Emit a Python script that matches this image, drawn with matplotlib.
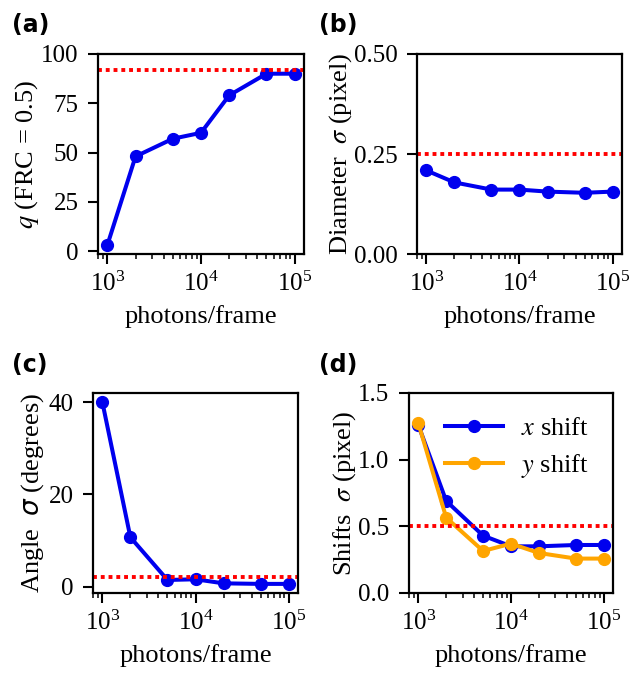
import matplotlib
matplotlib.use("Agg")
import matplotlib.pyplot as plt

photons = [1e3, 2e3, 5e3, 1e4, 2e4, 5e4, 1e5]
q_frc = [3, 48, 57, 60, 79, 90, 90]
q_ref = 92
diam_sigma = [0.209, 0.179, 0.161, 0.161, 0.156, 0.153, 0.156]
diam_ref = 0.25
angle_sigma = [40, 10.7, 1.45, 1.6, 0.72, 0.6, 0.6]
angle_ref = 2
x_shift = [1.26, 0.69, 0.43, 0.35, 0.35, 0.36, 0.36]
y_shift = [1.275, 0.565, 0.315, 0.37, 0.30, 0.258, 0.258]
shift_ref = 0.5

plt.rcParams['font.family'] = ['Liberation Serif', 'DejaVu Serif']
plt.rcParams['mathtext.fontset'] = 'stix'
plt.rcParams['font.size'] = 19
plt.rcParams['axes.linewidth'] = 1.6
plt.rcParams['xtick.major.width'] = 1.5
plt.rcParams['ytick.major.width'] = 1.5
plt.rcParams['xtick.minor.width'] = 1.1
plt.rcParams['xtick.major.size'] = 7
plt.rcParams['ytick.major.size'] = 7
plt.rcParams['xtick.minor.size'] = 3.6

fig = plt.figure(figsize=(6.42, 6.75), dpi=100)
H = 0.2963
axa = fig.add_axes([0.1526, 0.6237, 0.3209, H])
axb = fig.add_axes([0.6495, 0.6237, 0.3193, H])
axc = fig.add_axes([0.1449, 0.1215, 0.3193, H])
axd = fig.add_axes([0.6371, 0.1215, 0.3178, H])

lw = 2.9
ms = 8.5
blue = '#0000ee'
orange = '#ffa500'
dot = (0, (1, 1))
rlw = 2.8

def base(ax):
    ax.set_xscale('log')
    ax.set_xlabel('photons/frame', labelpad=6.5, fontsize=19)
    ax.tick_params(axis='x', labelsize=18, pad=6)
    ax.tick_params(axis='y', labelsize=18, pad=7)

# (a)
axa.plot(photons, q_frc, '-o', color=blue, lw=lw, ms=ms)
axa.axhline(q_ref, color='red', ls=dot, lw=rlw)
base(axa)
axa.set_ylim(-1.5, 100)
axa.set_yticks([0, 25, 50, 75, 100])
axa.set_ylabel(r'$q$ (FRC = 0.5)', labelpad=0)

# (b)
axb.plot(photons, diam_sigma, '-o', color=blue, lw=lw, ms=ms)
axb.axhline(diam_ref, color='red', ls=dot, lw=rlw)
base(axb)
axb.set_ylim(0, 0.5)
axb.set_yticks([0, 0.25, 0.5])
axb.set_yticklabels(['0.00', '0.25', '0.50'])
axb.set_ylabel(r'Diameter  $\sigma$ (pixel)', labelpad=0)

# (c)
axc.plot(photons, angle_sigma, '-o', color=blue, lw=lw, ms=ms)
axc.axhline(angle_ref, color='red', ls=dot, lw=rlw)
base(axc)
axc.set_yticks([0, 20, 40])
axc.set_ylabel(r'Angle  $\sigma$ (degrees)', labelpad=2,
               math_fontfamily='dejavusans')

# (d)
axd.plot(photons, x_shift, '-o', color=blue, lw=lw, ms=ms, label=r'$x$ shift')
axd.plot(photons, y_shift, '-o', color=orange, lw=lw, ms=ms, label=r'$y$ shift')
axd.axhline(shift_ref, color='red', ls=dot, lw=rlw)
base(axd)
axd.set_ylim(0, 1.5)
axd.set_yticks([0, 0.5, 1.0, 1.5])
axd.set_ylabel(r'Shifts  $\sigma$ (pixel)', labelpad=0)
axd.legend(frameon=False, loc='upper right', handlelength=2.2,
           fontsize=19, handletextpad=0.7, labelspacing=0.45)

for lab, x, y in [('(a)', 0.018, 0.953), ('(b)', 0.497, 0.953),
                  ('(c)', 0.018, 0.449), ('(d)', 0.497, 0.449)]:
    fig.text(x, y, lab, family='DejaVu Sans', weight='bold', fontsize=17)

fig.savefig('out.png', dpi=100)
